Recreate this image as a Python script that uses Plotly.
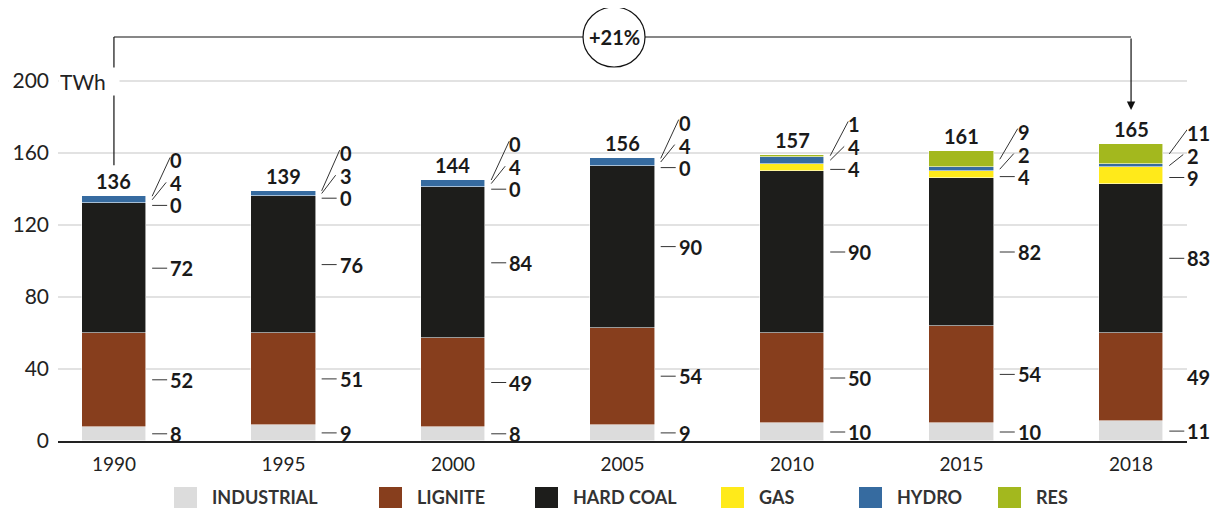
import plotly.graph_objects as go

# ---------------- data ----------------
YEARS = ["1990", "1995", "2000", "2005", "2010", "2015", "2018"]
INDUSTRIAL = [8, 9, 8, 9, 10, 10, 11]
LIGNITE = [52, 51, 49, 54, 50, 54, 49]
HARD_COAL = [72, 76, 84, 90, 90, 82, 83]
GAS = [0, 0, 0, 0, 4, 4, 9]
HYDRO = [4, 3, 4, 4, 4, 2, 2]
RES = [0, 0, 0, 0, 1, 9, 11]
TOTALS = [136, 139, 144, 156, 157, 161, 165]
CHANGE_LABEL = "+21%"
Y_TICKS = [0, 40, 80, 120, 160, 200]
Y_UNIT = "TWh"
SERIES_NAMES = ["INDUSTRIAL", "LIGNITE", "HARD COAL", "GAS", "HYDRO", "RES"]

# ---------------- styles / layout ----------------
COLORS = ["#dcdcdc", "#873e1d", "#1d1d1b", "#ffea1a", "#366ba0", "#a3b81e"]
FONT = "Lato, 'Open Sans', sans-serif"
TXT = "#1a1a1a"
W, H = 1213, 500            # page body has an 8px margin
M_L, M_R, M_T, M_B = 50, 34, 0, 67
PX_Y = 1.8                  # pixels per TWh
Y_MAX = (H - M_T - M_B) / PX_Y
X_RANGE = [-0.33, 6.33]
BAR_W = 0.38
HIDDEN_LEADERS = {(6, 1)}

series = [INDUSTRIAL, LIGNITE, HARD_COAL, GAS, HYDRO, RES]
xs = list(range(len(YEARS)))

fig = go.Figure()
for name, vals, col in zip(SERIES_NAMES, series, COLORS):
    fig.add_trace(go.Bar(
        x=xs, y=vals, name=name, width=BAR_W,
        marker=dict(color=col, line=dict(color="rgba(255,255,255,0.7)", width=0.8)),
        showlegend=False, hoverinfo="skip"))

shapes = []
annotations = []

def leader(xa, x0p, x1p, y0, y1):
    shapes.append(dict(type="line", xref="x", yref="y", xsizemode="pixel", xanchor=xa,
                       x0=x0p, x1=x1p, y0=y0, y1=y1,
                       line=dict(color="#333333", width=1)))

def label(xa, y, text, yshift=0):
    annotations.append(dict(x=xa, y=y, xref="x", yref="y", text=text, showarrow=False,
                            xanchor="left", yanchor="middle", xshift=22, yshift=yshift,
                            font=dict(family=FONT, size=20, color=TXT, weight="bold")))

stack_tops = []
for i in xs:
    vals = [s[i] for s in series]
    mids, cum = [], 0
    for v in vals:
        mids.append(cum + v / 2)
        cum += v
    stack_tops.append(cum)
    xr = i + BAR_W / 2
    # big segments
    for k in range(3):
        if (i, k) not in HIDDEN_LEADERS:
            leader(xr, 6, 21, mids[k], mids[k])
        label(xr, mids[k], str(vals[k]))
    # small top segments
    g = mids[3]
    leader(xr, 6, 21, g - 2 / PX_Y, g - 2 / PX_Y)
    label(xr, g, str(vals[3]), yshift=-2)
    leader(xr, 6, 20, mids[4], g + 21 / PX_Y)
    label(xr, g, str(vals[4]), yshift=20)
    leader(xr, 6, 24, mids[5], g + 46 / PX_Y)
    label(xr, g, str(vals[5]), yshift=43)
    # total
    annotations.append(dict(x=i, y=cum, xref="x", yref="y", text=str(TOTALS[i]),
                            showarrow=False, xanchor="center", yanchor="bottom", yshift=1,
                            font=dict(family=FONT, size=20, color=TXT, weight="bold")))

# bracket with change
BRACKET_Y = (H - M_B - 29) / PX_Y
CIRCLE_X = 2.95
shapes.append(dict(type="line", xref="x", yref="y", x0=0, x1=0,
                   y0=stack_tops[0] + 31 / PX_Y, y1=BRACKET_Y,
                   line=dict(color="#111", width=1.2)))
shapes.append(dict(type="line", xref="x", yref="y", x0=0, x1=xs[-1],
                   y0=BRACKET_Y, y1=BRACKET_Y, line=dict(color="#111", width=1.2)))
annotations.append(dict(x=xs[-1], y=stack_tops[-1] + 34 / PX_Y, xref="x", yref="y",
                        ax=xs[-1], ay=BRACKET_Y, axref="x", ayref="y", text="",
                        showarrow=True, arrowhead=2, arrowsize=1.4, arrowwidth=1.2,
                        arrowcolor="#111"))
shapes.append(dict(type="circle", xref="x", yref="y", xsizemode="pixel", ysizemode="pixel",
                   xanchor=CIRCLE_X, yanchor=BRACKET_Y, x0=-31, x1=31, y0=-30, y1=30,
                   fillcolor="white", line=dict(color="#111", width=1.2), layer="above"))
annotations.append(dict(x=CIRCLE_X, y=BRACKET_Y, xref="x", yref="y", text=CHANGE_LABEL,
                        showarrow=False, font=dict(family=FONT, size=20, color=TXT, weight="bold")))

# unit label next to top tick
annotations.append(dict(x=0, y=Y_TICKS[-1], xref="paper", yref="y", text=Y_UNIT,
                        showarrow=False, xanchor="left", yanchor="middle", align="left",
                        width=58, bgcolor="white", xshift=0,
                        font=dict(family=FONT, size=21, color="#222")))

# manual legend (pixel positions in figure space)
LEG_X = [166, 371, 527, 713, 851, 990]
def px_to_paper_x(px):
    return (px - M_L) / (W - M_L - M_R)
def px_to_paper_y(py):
    return (H - M_B - py) / (H - M_T - M_B)
for name, col, lx in zip(SERIES_NAMES, COLORS, LEG_X):
    shapes.append(dict(type="rect", xref="paper", yref="paper",
                       x0=px_to_paper_x(lx), x1=px_to_paper_x(lx + 23),
                       y0=px_to_paper_y(500), y1=px_to_paper_y(479),
                       fillcolor=col, line=dict(width=0)))
    annotations.append(dict(x=px_to_paper_x(lx + 36), y=px_to_paper_y(489), xref="paper",
                            yref="paper", text=name, showarrow=False, xanchor="left",
                            yanchor="middle",
                            font=dict(family=FONT, size=18, color="#333", weight="bold")))

fig.update_layout(
    width=W, height=H, barmode="stack", bargap=0,
    margin=dict(l=M_L, r=M_R, t=M_T, b=M_B, pad=0),
    plot_bgcolor="white", paper_bgcolor="white",
    font=dict(family=FONT, color="#222"),
    shapes=shapes, annotations=annotations,
    xaxis=dict(range=X_RANGE, tickvals=xs, ticktext=YEARS, showgrid=False,
               showline=True, linecolor="#222", linewidth=1.5, ticks="",
               ticklabelstandoff=5,
               tickfont=dict(family=FONT, size=19, color="#222"), zeroline=False,
               fixedrange=True),
    yaxis=dict(range=[0, Y_MAX], tickvals=Y_TICKS, showgrid=True, gridcolor="#e2e2e2",
               gridwidth=1.5, zeroline=False, showline=False, ticks="",
               ticklabelstandoff=8,
               tickfont=dict(family=FONT, size=21, color="#222"), fixedrange=True),
)

fig.write_html("out.html")
